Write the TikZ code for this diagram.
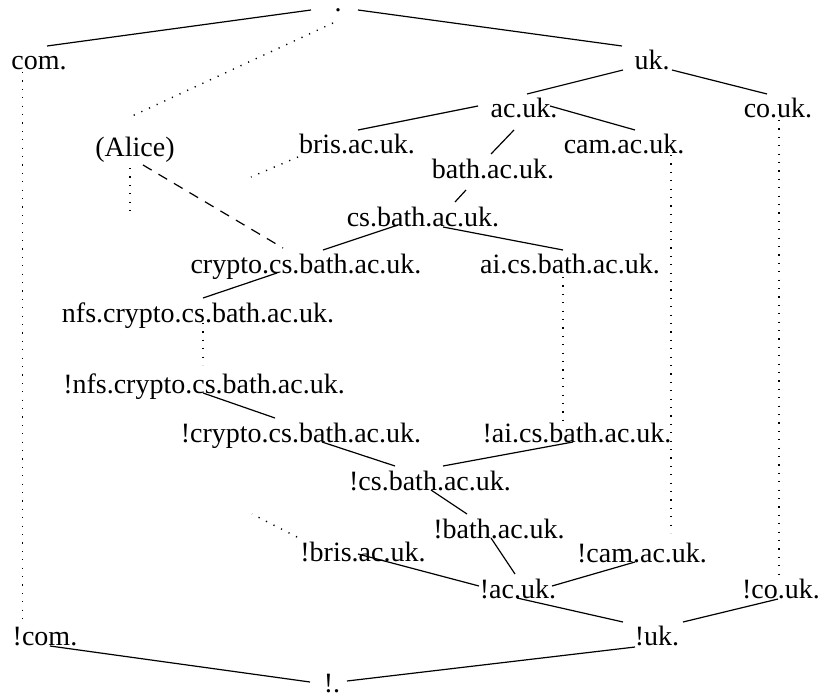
\documentclass[tikz,border=0pt]{standalone}
\usepackage{fontspec}
\setmainfont{Liberation Serif}
\usepackage{tikz}
\tikzset{
  dn/.style={inner sep=0pt, anchor=base, font=\fontsize{14}{16}\selectfont},
  link/.style={line width=0.6pt},
  hint/.style={line width=0.7pt, dash pattern=on 0.6pt off 3.6pt},
  guess/.style={line width=0.6pt, dash pattern=on 5pt off 4pt}
}

\begin{document}
\begin{tikzpicture}[x=0.5pt,y=-0.5pt]
        \useasboundingbox (0,0) rectangle (822,695);

        \node[dn] at (338,12)  (root)   {.};
        \node[dn] at (39,70)   (com)    {com.};
        \node[dn] at (652,70)  (uk)     {uk.};
        \node[dn] at (524,118) (acuk)   {ac.uk.};
        \node[dn] at (778,118) (couk)   {co.uk.};
        \node[dn] at (135,156) (alice)  {(Alice)};
        \node[dn] at (357,154) (bris)   {bris.ac.uk.};
        \node[dn] at (624,154) (cam)    {cam.ac.uk.};
        \node[dn] at (493,178) (bath)   {bath.ac.uk.};
        \node[dn] at (423,226) (csbath) {cs.bath.ac.uk.};
        \node[dn] at (306,273) (crypto) {crypto.cs.bath.ac.uk.};
        \node[dn] at (570,273) (aics)   {ai.cs.bath.ac.uk.};
        \node[dn] at (198,322) (nfs)    {nfs.crypto.cs.bath.ac.uk.};

        \node[dn] at (204,393) (nnfs)    {!nfs.crypto.cs.bath.ac.uk.};
        \node[dn] at (301,442) (ncrypto) {!crypto.cs.bath.ac.uk.};
        \node[dn] at (577,442) (nai)     {!ai.cs.bath.ac.uk.};
        \node[dn] at (430,490) (ncs)     {!cs.bath.ac.uk.};
        \node[dn] at (499,538) (nbath)   {!bath.ac.uk.};
        \node[dn] at (363,561) (nbris)   {!bris.ac.uk.};
        \node[dn] at (642,562) (ncam)    {!cam.ac.uk.};
        \node[dn] at (518,598) (nac)     {!ac.uk.};
        \node[dn] at (781,598) (ncouk)   {!co.uk.};
        \node[dn] at (657,645) (nuk)     {!uk.};
        \node[dn] at (45,645)  (ncom)    {!com.};
        \node[dn] at (332,692) (nroot)   {!.};

        % names
        \draw[link] ([shift={(-27,-2)}]root.base) -- ([shift={(8,-24)}]com.base);
        \draw[link] ([shift={(20,-2)}]root.base) -- ([shift={(-30,-24)}]uk.base);
        \draw[link] ([shift={(-29,0)}]uk.base) -- ([shift={(3,-24)}]acuk.base);
        \draw[link] ([shift={(20,0)}]uk.base) -- ([shift={(-11,-24)}]couk.base);
        \draw[link] ([shift={(-46,-12)}]acuk.base) -- ([shift={(1,-24)}]bris.base);
        \draw[link] ([shift={(26,-12)}]acuk.base) -- ([shift={(11,-24)}]cam.base);
        \draw[link] ([shift={(-10,12)}]acuk.base) -- ([shift={(-2,-24)}]bath.base);
        \draw[link] ([shift={(-27,12)}]bath.base) -- ([shift={(32,-24)}]csbath.base);
        \draw[link] ([shift={(-25,-1)}]csbath.base) -- ([shift={(17,-23)}]crypto.base);
        \draw[link] ([shift={(20,1)}]csbath.base) -- ([shift={(-7,-23)}]aics.base);
        \draw[link] ([shift={(-29,0)}]crypto.base) -- ([shift={(5,-24)}]nfs.base);

        % complements
        \draw[link] ([shift={(-1,0)}]nnfs.base) -- ([shift={(-26,-24)}]ncrypto.base);
        \draw[link] ([shift={(21,0)}]ncrypto.base) -- ([shift={(-35,-24)}]ncs.base);
        \draw[link] ([shift={(-4,0)}]nai.base) -- ([shift={(13,-24)}]ncs.base);
        \draw[link] ([shift={(1,0)}]ncs.base) -- ([shift={(-32,-24)}]nbath.base);
        \draw[link] ([shift={(-8,0)}]nbath.base) -- ([shift={(-3,-24)}]nac.base);
        \draw[link] ([shift={(-5,-7)}]nbris.base) -- ([shift={(-39,-12)}]nac.base);
        \draw[link] ([shift={(-7,0)}]ncam.base) -- ([shift={(34,-12)}]nac.base);
        \draw[link] ([shift={(-1,0)}]nac.base) -- ([shift={(-34,-23)}]nuk.base);
        \draw[link] ([shift={(-3,1)}]ncouk.base) -- ([shift={(26,-23)}]nuk.base);
        \draw[link] ([shift={(5,1)}]ncom.base) -- ([shift={(-22,-10)}]nroot.base);
        \draw[link] ([shift={(-22,2)}]nuk.base) -- ([shift={(15,-11)}]nroot.base);

        % gaps
        \draw[hint] ([shift={(-16.5,2)}]com.base) -- ([shift={(-22.5,-23)}]ncom.base);
        \draw[hint] ([shift={(-5,11)}]root.base) -- ([shift={(-5,-39)}]alice.base);
        \draw[hint] ([shift={(-5,12)}]alice.base) -- ++(0,50);
        \draw[hint] ([shift={(-59,3)}]bris.base) -- ++(-47,20);
        \draw[hint] ([shift={(5,1)}]nfs.base) -- ([shift={(-1,-28)}]nnfs.base);
        \draw[hint] ([shift={(-7,4)}]aics.base) -- ([shift={(-14,-19)}]nai.base);
        \draw[hint] ([shift={(47,1)}]cam.base) -- ([shift={(29,-29)}]ncam.base);
        \draw[hint] ([shift={(1,2)}]couk.base) -- ([shift={(-2,-23)}]ncouk.base);
        \draw[hint] ([shift={(-66,-24)}]nbris.base) -- ++(-45,-23);
        \draw[guess] ([shift={(8,9)}]alice.base) -- ([shift={(-23,-25)}]crypto.base);
\end{tikzpicture}
\end{document}
